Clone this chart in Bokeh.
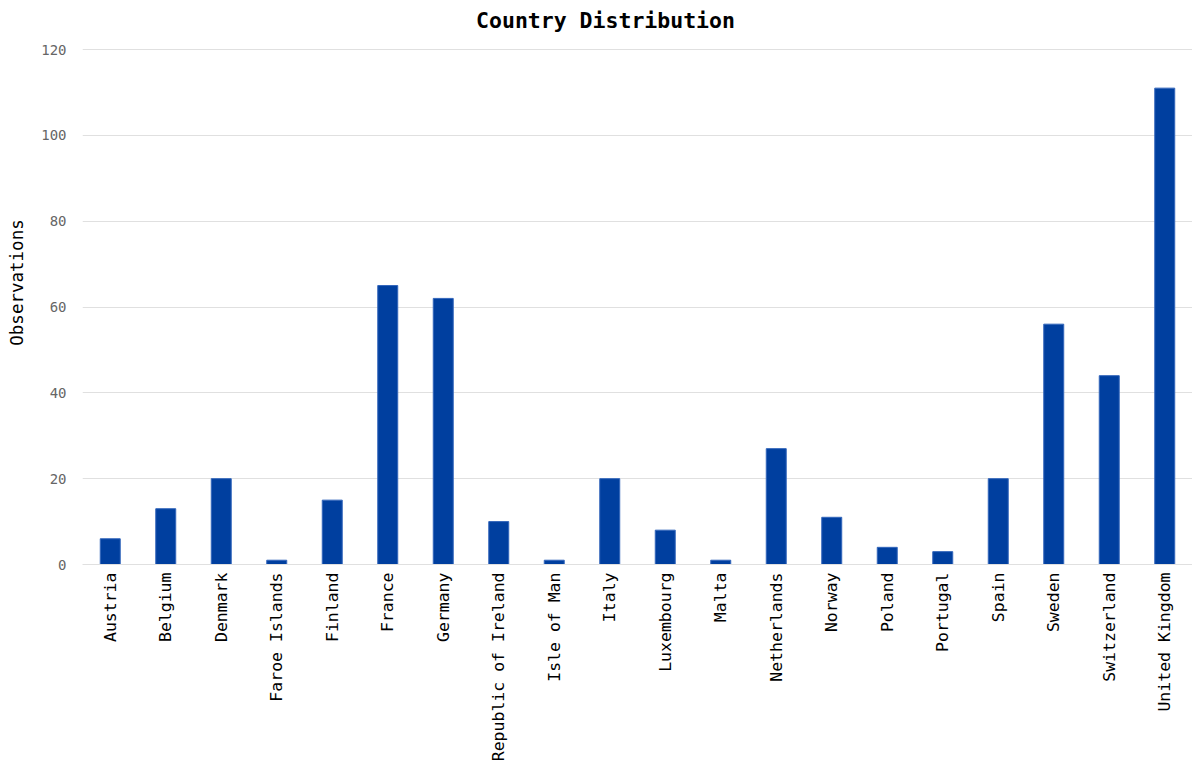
import math
from bokeh.plotting import figure
from bokeh.models import ColumnDataSource, FactorRange, Range1d, FixedTicker, Label
from bokeh.embed import file_html
from bokeh.resources import INLINE

countries = ["Austria", "Belgium", "Denmark", "Faroe Islands", "Finland", "France",
             "Germany", "Republic of Ireland", "Isle of Man", "Italy", "Luxembourg",
             "Malta", "Netherlands", "Norway", "Poland", "Portugal", "Spain", "Sweden",
             "Switzerland", "United Kingdom"]
observations = [6, 13, 20, 1, 15, 65, 62, 10, 1, 20, 8, 1, 27, 11, 4, 3, 20, 56, 44, 111]
y_ticks = [0, 20, 40, 60, 80, 100, 120]
chart_title = "Country Distribution"

FONT = "DejaVu Sans Mono"

src = ColumnDataSource(dict(country=countries, obs=observations))

# the frame reaches the top edge of the page; the headroom above 120 holds the title
Y_TOP = 120 * 564 / 515

p = figure(width=1192, height=764, x_range=FactorRange(*countries),
           y_range=Range1d(0, Y_TOP), output_backend="svg", toolbar_location=None,
           min_border_left=82, min_border_right=0, min_border_top=0, min_border_bottom=200)

p.vbar(x="country", top="obs", width=0.36, source=src,
       fill_color="#003f9f", line_color="#3366bb", line_width=1)

title_label = Label(x=523, y=Y_TOP * (564 - 20) / 564, x_units="screen", y_units="data",
                    text=chart_title, text_align="center", text_baseline="middle",
                    text_font=FONT, text_font_size="21.5px", text_font_style="bold",
                    text_color="#000000")
p.add_layout(title_label)

p.outline_line_color = None
p.xgrid.grid_line_color = None
p.ygrid.grid_line_color = "#e0e0e0"
p.ygrid.grid_line_width = 1

p.yaxis.ticker = FixedTicker(ticks=y_ticks)
p.yaxis.axis_line_color = None
p.yaxis.major_tick_line_color = None
p.yaxis.minor_tick_line_color = None
p.yaxis.major_label_text_font = FONT
p.yaxis.major_label_text_font_size = "14px"
p.yaxis.major_label_text_color = "#666666"
p.yaxis.major_label_standoff = 10
p.yaxis.axis_label = "Observations"
p.yaxis.axis_label_text_font = FONT
p.yaxis.axis_label_text_font_size = "17.5px"
p.yaxis.axis_label_text_font_style = "normal"
p.yaxis.axis_label_text_color = "#000000"
p.yaxis.axis_label_standoff = 11

p.xaxis.axis_line_color = "#e0e0e0"
p.xaxis.major_tick_line_color = None
p.xaxis.minor_tick_line_color = None
p.xaxis.major_label_orientation = math.pi / 2
p.xaxis.major_label_text_font = FONT
p.xaxis.major_label_text_font_size = "16.5px"
p.xaxis.major_label_text_color = "#000000"
p.xaxis.major_label_standoff = 2

open("out.html", "w").write(file_html(p, INLINE))
